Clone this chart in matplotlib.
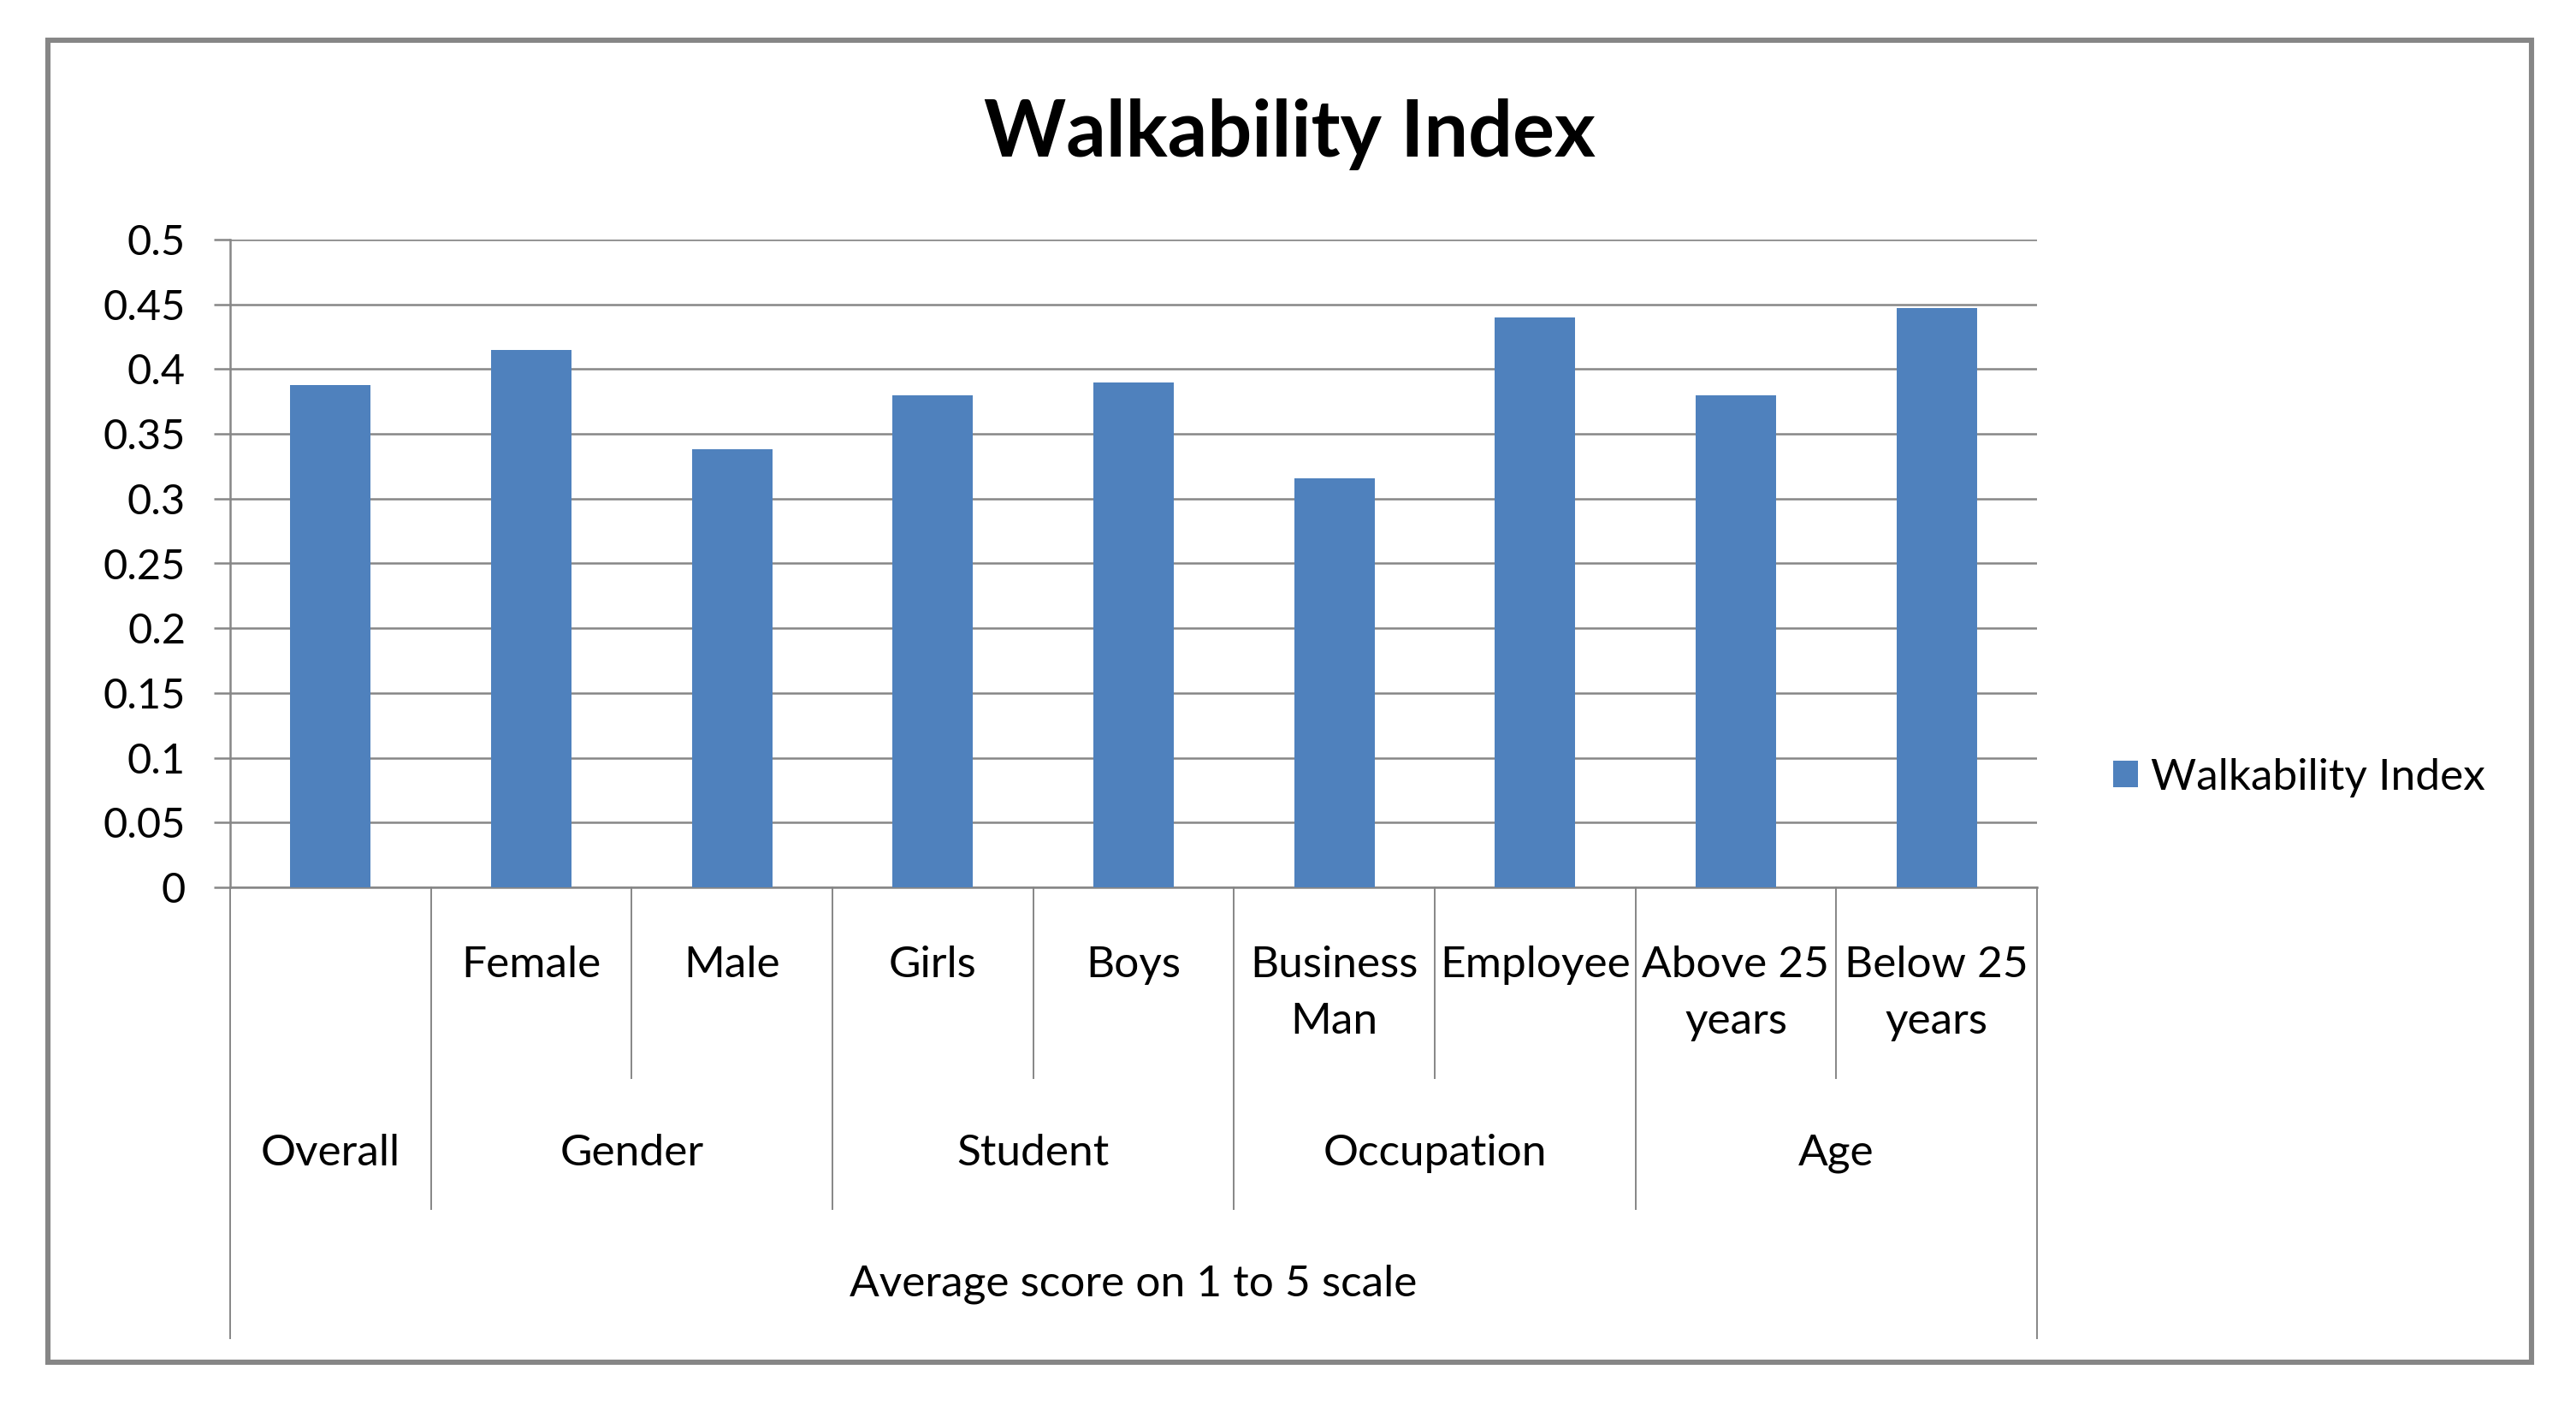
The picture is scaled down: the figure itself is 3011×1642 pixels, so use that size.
import numpy as np
import matplotlib.pyplot as plt
from matplotlib.patches import Rectangle

plt.rcParams['font.family'] = ['Lato', 'DejaVu Sans']

# data
sub_labels = ["", "Female", "Male", "Girls", "Boys", "Business\nMan",
              "Employee", "Above 25\nyears", "Below 25\nyears"]
groups = ["Overall", "Gender", "Student", "Occupation", "Age"]
group_sizes = [1, 2, 2, 2, 2]
values = [0.388, 0.415, 0.338, 0.380, 0.390, 0.316, 0.440, 0.380, 0.447]
top_label = "Average score on 1 to 5 scale"
series_name = "Walkability Index"
yticks = [0, 0.05, 0.1, 0.15, 0.2, 0.25, 0.3, 0.35, 0.4, 0.45, 0.5]

W, H = 3011, 1642
DPI = 200
bar_color = '#4F81BD'
line_color = '#868686'
fs = 18.5

fig = plt.figure(figsize=(W / DPI, H / DPI), dpi=DPI)
ax = fig.add_axes([269 / W, 1 - 1037 / H, (2381 - 269) / W, (1037 - 280) / H])

x = np.arange(len(values))
ax.bar(x, values, width=0.4, color=bar_color, label=series_name, zorder=3)

ax.set_xlim(-0.5, len(values) - 0.5)
ax.set_ylim(0, 0.5)
ax.set_yticks(yticks)
ax.set_yticklabels(['%g' % t for t in yticks], fontsize=17.5)
ax.tick_params(axis='y', length=6.7, width=0.9, color=line_color, pad=12)
ax.set_xticks([])
ax.yaxis.grid(True, color=line_color, linewidth=0.9)
ax.set_axisbelow(True)
for side in ['top', 'right']:
    ax.spines[side].set_visible(False)
for side in ['left', 'bottom']:
    ax.spines[side].set_color(line_color)
    ax.spines[side].set_linewidth(0.9)

# multi-level category axis
trans = ax.get_xaxis_transform()
n = len(values)
group_edges = np.cumsum([0] + group_sizes)
for i in range(n + 1):
    pos = i - 0.5
    if i == 0 or i == n:
        y_end = -0.696
    elif i in group_edges:
        y_end = -0.497
    else:
        y_end = -0.295
    ax.plot([pos, pos], [0, y_end], transform=trans, color=line_color,
            linewidth=0.7, clip_on=False)

for i, lab in enumerate(sub_labels):
    ax.text(i, -0.09, lab, transform=trans, ha='center', va='top',
            fontsize=fs, linespacing=1.55)

for g, start, size in zip(groups, group_edges[:-1], group_sizes):
    ax.text(start + (size - 1) / 2, -0.411, g, transform=trans,
            ha='center', va='center', fontsize=fs)

ax.text((n - 1) / 2, -0.612, top_label, transform=trans,
        ha='center', va='center', fontsize=fs)

fig.text(1507 / W, 1 - 157 / H, series_name, ha='center', va='center',
         fontsize=33, fontweight='bold')

fig.legend(loc='center left', bbox_to_anchor=(2470 / W, 1 - 909 / H),
           frameon=False, fontsize=fs, handlelength=0.56, handleheight=0.56,
           handletextpad=0.3, borderpad=0, borderaxespad=0)

fig.patches.append(Rectangle((56 / W, 1 - 1592 / H), (2959 - 56) / W,
                             (1592 - 47) / H, transform=fig.transFigure,
                             fill=False, edgecolor=line_color, linewidth=2.2))

fig.savefig('out.png', dpi=DPI, facecolor='white')
